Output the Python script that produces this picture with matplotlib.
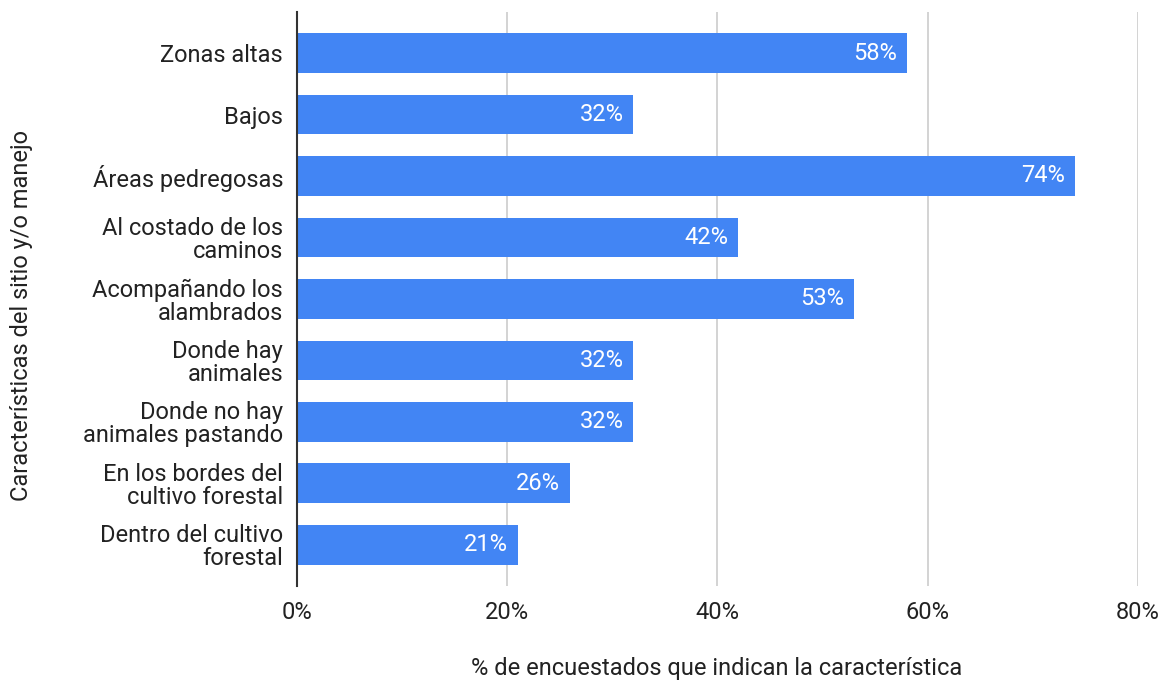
import matplotlib.pyplot as plt

plt.rcParams['font.family'] = ['Roboto', 'DejaVu Sans']

categories = ["Zonas altas", "Bajos", "Áreas pedregosas",
              "Al costado de los\ncaminos", "Acompañando los\nalambrados",
              "Donde hay\nanimales", "Donde no hay\nanimales pastando",
              "En los bordes del\ncultivo forestal", "Dentro del cultivo\nforestal"]
values = [58, 32, 74, 42, 53, 32, 32, 26, 21]
xticks = [0, 20, 40, 60, 80]

fig = plt.figure(figsize=(11.67, 6.81), dpi=100)
ax = fig.add_axes([0.2545, 0.1395, 0.7206, 0.8429])

pos = list(range(len(categories)))
ax.barh(pos, values, height=0.65, color="#4285F4", zorder=3)
for y, v in zip(pos, values):
    ax.text(v - 0.95, y, f"{v}%", color="white", ha="right", va="center",
            fontsize=17, zorder=4)

ax.set_ylim(8.667, -0.667)
ax.set_xlim(0, 80)
ax.set_yticks(pos)
ax.set_yticklabels(categories, fontsize=17, color="#222222", linespacing=1.0)
ax.set_xticks(xticks)
ax.set_xticklabels([f"{t}%" for t in xticks], fontsize=17, color="#222222")
ax.tick_params(axis="both", length=0)
ax.tick_params(axis="y", pad=10)
ax.tick_params(axis="x", pad=11)
ax.grid(axis="x", color="#cccccc", linewidth=1.2, zorder=0)
for s in ["top", "right", "bottom"]:
    ax.spines[s].set_visible(False)
ax.spines["left"].set_color("#333333")
ax.spines["left"].set_linewidth(1.5)
ax.spines["left"].set_zorder(5)

fig.text(0.614, 0.019, "% de encuestados que indican la característica",
         ha="center", va="center", fontsize=17, color="#222222")
fig.text(0.018, 0.536, "Características del sitio y/o manejo", rotation=90,
         ha="center", va="center", fontsize=17, color="#222222")

fig.savefig("out.png", dpi=100)
